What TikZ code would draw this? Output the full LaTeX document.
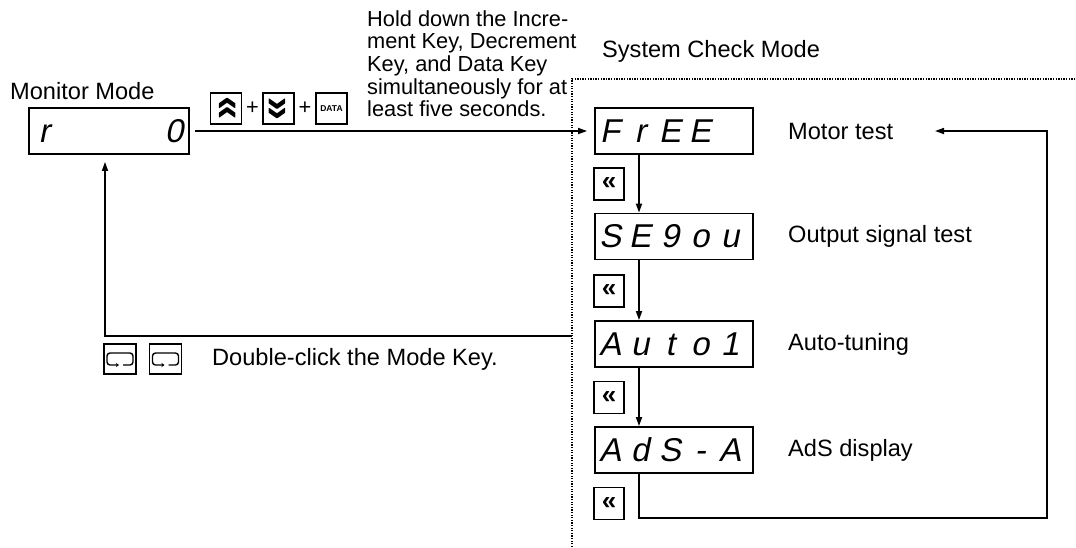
\documentclass[tikz,border=0pt]{standalone}
\usepackage{fontspec}
\setmainfont{Liberation Sans}
\newfontfamily\segfont[FakeSlant=0.2]{Liberation Sans}
\usetikzlibrary{arrows.meta, positioning}
\newcommand\segs[1]{\foreach \ch in {#1}{\makebox[30pt][c]{\ch}}}
\newcommand\modeicon[1]{\draw[line width=1.4pt, rounded corners=3pt, -{Stealth[length=3pt,width=4pt]}] ([shift={(3,6)}]#1.center) -- ([shift={(13,6)}]#1.center) -- ([shift={(13,-6)}]#1.center) -- ([shift={(-13,-6)}]#1.center) -- ([shift={(-13,6)}]#1.center) -- ([shift={(-1,6)}]#1.center);}
\tikzset{
  disp/.style={draw, line width=1.8pt, inner xsep=0pt, minimum height=46pt, font=\segfont\fontsize{33}{33}\selectfont},
  keybox/.style={draw, line width=1.5pt, minimum width=31pt, minimum height=31pt, inner sep=0pt},
  conn/.style={line width=1.6pt, -{Triangle[length=9pt,width=6pt]}},
  lbl/.style={anchor=west, inner sep=0pt, font=\fontsize{23.6}{26}\selectfont}
}

\begin{document}
\begin{tikzpicture}[x=1pt,y=-1pt,font=\fontsize{21.8}{22.7}\selectfont]
\useasboundingbox (0,0) rectangle (1076,547);
\draw[line width=1.3pt, dash pattern=on 1.3pt off 1.3pt] (572,547) -- (572,79) -- (1076,79);

\node[lbl, anchor=base west] (monmode) at (10,99) {Monitor Mode};
\node[lbl, anchor=base west] (sysmode) at (602,57) {System Check Mode};
\node[disp] (mon) at (109,131) {\makebox[160pt][l]{\makebox[30pt]{r}\hfill\makebox[30pt]{0}}};

\node[keybox] (upkey) at (226,108.5) {\fontsize{42}{42}\bfseries\rotatebox{-90}{«}};
\node[inner sep=0pt] (plusa) at (252.5,108) {+};
\node[keybox] (downkey) at (278.5,108.5) {\fontsize{42}{42}\bfseries\rotatebox{90}{«}};
\node[inner sep=0pt] (plusb) at (305,108) {+};
\node[keybox] (datakey) at (331.5,108.5) {\fontsize{8.5}{8.5}\bfseries DATA};
\node[anchor=north west, inner sep=0pt, align=left] (holdtxt) at (367,10) {Hold down the Incre-\\ment Key, Decrement\\Key, and Data Key\\simultaneously for at\\least five seconds.};

\node[disp] (free) at (674,131) {\makebox[158pt][l]{\segs{F,r,E,E}}};
\node[disp] (seq) at (674,236.5) {\makebox[158pt][l]{\segs{S,E,9,o,u}}};
\node[disp] (auto) at (674,344) {\makebox[158pt][l]{\segs{A,u,t,o,1}}};
\node[disp] (ads) at (674,450) {\makebox[158pt][l]{\segs{A,d,S,-,A}}};

\node[keybox, minimum width=30pt, minimum height=32pt] (shifta) at (609,184) {\fontsize{26}{26}\bfseries «};
\node[keybox, minimum width=30pt, minimum height=32pt] (shiftb) at (609,291) {\fontsize{26}{26}\bfseries «};
\node[keybox, minimum width=30pt, minimum height=32pt] (shiftc) at (609,397.5) {\fontsize{26}{26}\bfseries «};
\node[keybox, minimum width=30pt, minimum height=32pt] (shiftd) at (609,503.5) {\fontsize{26}{26}\bfseries «};

\node[lbl] (motor) at (788,131) {Motor test};
\node[lbl] (outsig) at (788,236.5) {Output signal test};
\node[lbl] (autotune) at (788,344) {Auto-tuning};
\node[lbl] (adsdisp) at (788,450) {AdS display};

\node[keybox, minimum width=32pt, minimum height=30pt] (modea) at (120,359) {};
\node[keybox, minimum width=32pt, minimum height=30pt] (modeb) at (165.5,359) {};
\modeicon{modea}
\modeicon{modeb}
\node[lbl] (dbltxt) at (212,359) {Double-click the Mode Key.};

\coordinate (retin) at (572,336);
\coordinate (retcorner) at (105,336);
\coordinate (loopbr) at (1047,518);
\coordinate (looptip) at (935,131);

\draw[conn, shorten <=5pt, shorten >=7pt] (mon.east) -- (free.west);
\draw[conn] ([xshift=-35pt]free.south) -- ([xshift=-35pt]seq.north);
\draw[conn] ([xshift=-35pt]seq.south) -- ([xshift=-35pt]auto.north);
\draw[conn] ([xshift=-35pt]auto.south) -- ([xshift=-35pt]ads.north);
\draw[conn] ([xshift=-35pt]ads.south) |- (loopbr) |- (looptip);
\draw[conn, shorten >=7pt] (retin) -- (retcorner) -- (retcorner |- mon.south);
\end{tikzpicture}
\end{document}
